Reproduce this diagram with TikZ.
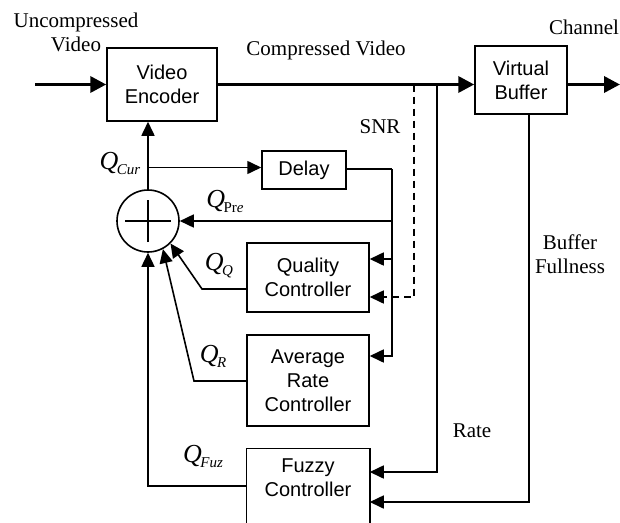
\documentclass[tikz,border=0pt]{standalone}
\usepackage{fontspec}
\setmainfont{Liberation Serif}
\setsansfont{Liberation Sans}
\usetikzlibrary{arrows.meta}

% quantiser symbol Q with a subscript
\newcommand{\qsym}[1]{{\fontsize{26}{26}\selectfont\itshape Q\/}\kern-1.5pt\raisebox{-5pt}{\fontsize{15}{15}\selectfont #1}}

\begin{document}
\begin{tikzpicture}[x=1pt,y=-1pt,
  box/.style={draw, line width=1.5pt, inner sep=0pt, align=center,
              font=\sffamily\fontsize{20}{24}\selectfont},
  lbl/.style={inner sep=0pt, align=center, font=\fontsize{21}{24}\selectfont},
  wire/.style={line width=1.6pt},
  tip/.style={-{Triangle[length=14pt,width=13pt]}},
  bus/.style={line width=3.5pt, -{Triangle[length=16pt,width=16pt]}}
]
\useasboundingbox (0,0) rectangle (620,522);
\clip (0,0) rectangle (620,522);

% blocks
\node[box, minimum width=110pt, minimum height=73pt] (enc) at (162,84.5) {Video\\Encoder};
\node[box, minimum width=92pt, minimum height=68pt] (vbuf) at (521,80) {Virtual\\Buffer};
\node[box, minimum width=84pt, minimum height=38pt] (delay) at (304,170) {Delay};
\node[box, minimum width=122pt, minimum height=69pt] (qual) at (308,277.5) {Quality\\Controller};
\node[box, minimum width=122pt, minimum height=91pt] (avg) at (308,380.5) {Average\\Rate\\Controller};
\node[box, draw=none, minimum width=122pt, minimum height=58pt] (fuzzy) at (308,478) {Fuzzy\\Controller};
% the fuzzy block runs past the lower edge
\draw[line width=1.5pt] ([yshift=-40pt]fuzzy.south west) -- (fuzzy.north west)
  -- (fuzzy.north east) -- ([yshift=-40pt]fuzzy.south east);

% summing junction
\node[circle, draw, line width=1.6pt, minimum size=62pt, inner sep=0pt] (sum) at (148,221) {};
\draw[wire] ([xshift=-23pt]sum.center) -- ([xshift=23pt]sum.center);
\draw[wire] ([yshift=-21pt]sum.center) -- ([yshift=21pt]sum.center);

% main video path
\coordinate (in) at (35,84.5);
\coordinate (out) at (620,84.5);
\draw[bus] (in) -- (enc.west |- in);
\draw[bus] (enc.east |- in) -- (vbuf.west |- in);
\draw[bus] (vbuf.east |- in) -- (out);

% current quantiser to the encoder and the delay
\coordinate (qc) at (148,167.5);
\draw[wire, tip] (sum.north) -- (sum.north |- enc.south);
\draw[wire, tip] (qc) -- (delay.west |- qc);

% delayed quantiser fed back
\coordinate (dl) at (392,169);
\draw[wire] (delay.east |- dl) -- (dl);
\draw[wire, tip] (dl) |- (avg.east |- 0,356);
\draw[wire, tip] (dl |- 0,221) -- (sum.east);
\draw[wire, tip] (dl |- 0,259) -- (qual.east |- 0,259);

% SNR measurement
\coordinate (snr) at (414,84.5);
\draw[wire, dashed, dash pattern=on 7pt off 5pt, tip] (snr) |- (qual.east |- 0,297);

% rate measurement
\coordinate (rt) at (437,84.5);
\draw[wire, tip] (rt) |- (fuzzy.east |- 0,472);

% buffer fullness
\coordinate (bf) at (529,114);
\draw[wire, tip] (bf) |- (fuzzy.east |- 0,502);

% controller outputs into the junction
\draw[wire, tip] (qual.west |- 0,289) -- (202,289) -- (sum.-45);
\draw[wire, tip] (avg.west |- 0,381) -- (194,381) -- (sum.-62);
\draw[wire, tip] (fuzzy.west |- 0,486) -- (148,486) -- (sum.south);

% labels
\node[lbl] (tin) at (76,32) {Uncompressed\\Video};
\node[lbl] (tcv) at (326,50) {Compressed Video};
\node[lbl] (tch) at (584,27) {Channel};
\node[lbl] (tsnr) at (380,127) {SNR};
\node[lbl] (tbf) at (570,254) {Buffer\\Fullness};
\node[lbl] (trate) at (472,431) {Rate};
\node[lbl] (lcur) at (120,163) {\qsym{\itshape Cur}};
\node[lbl] (lpre) at (225,201) {\qsym{Pr\textit{e}}};
\node[lbl] (lq) at (219,266) {\qsym{\itshape Q}};
\node[lbl] (lr) at (213,356) {\qsym{\itshape R}};
\node[lbl] (lfuz) at (203,456) {\qsym{\itshape Fuz}};
\end{tikzpicture}
\end{document}
